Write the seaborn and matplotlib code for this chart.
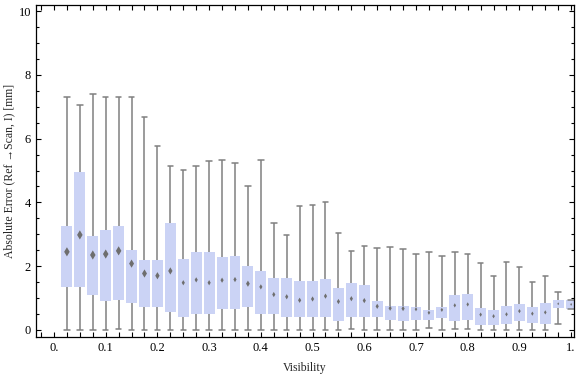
import matplotlib

matplotlib.use("Agg")
import matplotlib.pyplot as plt
import numpy as np
import pandas as pd
import seaborn as sns
from matplotlib.ticker import FixedLocator, MultipleLocator

# visibility bins (box positions)
visibility = [
    0.025, 0.05, 0.075, 0.1, 0.125, 0.15, 0.175, 0.2, 0.225, 0.25,
    0.275, 0.3, 0.325, 0.35, 0.375, 0.4, 0.425, 0.45, 0.475, 0.5,
    0.525, 0.55, 0.575, 0.6, 0.625, 0.65, 0.675, 0.7, 0.725, 0.75,
    0.775, 0.8, 0.825, 0.85, 0.875, 0.9, 0.925, 0.95, 0.975, 1.0,
]
err_min = [
    0, 0, 0, 0, 0.03, 0, 0, 0, 0, 0,
    0, 0, 0, 0, 0, 0, 0, 0, 0, 0,
    0, 0, 0.03, 0, 0, 0, 0, 0, 0.05, 0,
    0.02, 0.03, 0, 0, 0, 0, 0, 0, 0.18, 0.66,
]
err_q1 = [
    1.36, 1.36, 1.08, 0.92, 0.95, 0.86, 0.73, 0.73, 0.57, 0.42,
    0.51, 0.51, 0.67, 0.67, 0.73, 0.51, 0.51, 0.42, 0.39, 0.39,
    0.40, 0.29, 0.42, 0.39, 0.42, 0.32, 0.29, 0.31, 0.31, 0.37,
    0.29, 0.31, 0.16, 0.17, 0.18, 0.28, 0.23, 0.20, 0.70, 0.66,
]
err_mean = [
    2.45, 2.98, 2.35, 2.38, 2.48, 2.08, 1.77, 1.70, 1.85, 1.48,
    1.57, 1.48, 1.56, 1.58, 1.45, 1.35, 1.11, 1.04, 0.93, 0.97,
    1.06, 0.89, 0.98, 0.92, 0.74, 0.68, 0.67, 0.65, 0.54, 0.63,
    0.77, 0.80, 0.48, 0.43, 0.49, 0.59, 0.51, 0.55, 0.82, 0.80,
]
err_q3 = [
    3.26, 4.95, 2.95, 3.12, 3.26, 2.51, 2.19, 2.19, 3.35, 2.23,
    2.45, 2.45, 2.29, 2.32, 2.01, 1.85, 1.63, 1.63, 1.54, 1.54,
    1.60, 1.32, 1.47, 1.41, 0.91, 0.75, 0.75, 0.72, 0.61, 0.72,
    1.11, 1.12, 0.68, 0.62, 0.74, 0.80, 0.71, 0.85, 0.94, 0.94,
]
err_max = [
    7.29, 7.07, 7.39, 7.32, 7.32, 7.29, 6.67, 5.76, 5.13, 5.02,
    5.13, 5.30, 5.32, 5.22, 4.50, 5.32, 3.34, 2.97, 3.88, 3.91,
    4.00, 3.03, 2.47, 2.62, 2.56, 2.59, 2.53, 2.37, 2.44, 2.31,
    2.44, 2.37, 2.09, 1.70, 2.12, 1.96, 1.49, 1.70, 1.18, 0.94,
]
# height of the mean diamond (mm)
mean_ci = [
    0.28, 0.28, 0.28, 0.28, 0.28, 0.25, 0.25, 0.22, 0.22, 0.16,
    0.16, 0.16, 0.16, 0.16, 0.19, 0.16, 0.16, 0.16, 0.16, 0.16,
    0.16, 0.16, 0.16, 0.16, 0.16, 0.16, 0.16, 0.13, 0.13, 0.13,
    0.13, 0.13, 0.13, 0.13, 0.13, 0.13, 0.13, 0.13, 0.09, 0.09,
]
xtick_vals = [0, 0.1, 0.2, 0.3, 0.4, 0.5, 0.6, 0.7, 0.8, 0.9, 1.0]
xtick_labels = ["0.", "0.1", "0.2", "0.3", "0.4", "0.5", "0.6", "0.7", "0.8", "0.9", "1."]

BOX = "#cbd3f5"
LINE = "#808080"

sns.set_style("ticks")
plt.rcParams["font.family"] = ["Liberation Serif", "DejaVu Serif"]
plt.rcParams["xtick.direction"] = "in"
plt.rcParams["ytick.direction"] = "in"

# five-number summary per bin -> boxplot with whiskers at min/max
rows = []
for v, a, b, c, d, e in zip(visibility, err_min, err_q1, err_mean, err_q3, err_max):
    for val in (a, b, c, d, e):
        rows.append({"vis": v, "err": val})
df = pd.DataFrame(rows)

means = pd.DataFrame({"vis": visibility, "err": err_mean, "ci": np.array(mean_ci) ** 2})

fig = plt.figure(figsize=(5.76, 3.77), dpi=100)
ax = fig.add_axes([0.0625, 0.105, 0.934, 0.8825])

sns.boxplot(
    data=df, x="vis", y="err", native_scale=True, whis=(0, 100),
    width=0.85, color=BOX, saturation=1, fill=True, ax=ax,
    boxprops=dict(linewidth=0, facecolor=BOX, edgecolor=BOX),
    whiskerprops=dict(color=LINE, linewidth=1.1),
    capprops=dict(color=LINE, linewidth=1.1),
    medianprops=dict(linewidth=0),
    showfliers=False,
)
sns.scatterplot(
    data=means, x="vis", y="err", size="ci", sizes=(0, 22),
    size_norm=(0, max(means["ci"])), marker="d", color="#6e6e6e",
    linewidth=0, legend=False, ax=ax, zorder=5,
)

ax.set_xlim(-0.0348, 1.0055)
ax.set_ylim(-0.235, 10.2)
ax.xaxis.set_major_locator(FixedLocator(xtick_vals))
ax.set_xticklabels(xtick_labels)
ax.xaxis.set_minor_locator(MultipleLocator(0.025))
ax.yaxis.set_major_locator(MultipleLocator(2))
ax.yaxis.set_minor_locator(MultipleLocator(0.5))
ax.tick_params(which="both", top=True, right=True, direction="in", colors="black", labelsize=9)
ax.tick_params(axis="x", which="both", length=3.5, width=0.8)
ax.tick_params(axis="y", which="major", length=3.5, width=0.8)
ax.tick_params(axis="y", which="minor", length=2, width=0.8)
for s in ax.spines.values():
    s.set_visible(True)
    s.set_linewidth(0.9)
    s.set_color("black")

ax.set_xlabel("Visibility", fontsize=8.5)
ax.set_ylabel("Absolute Error (Ref \u2192Scan, I) [mm]", fontsize=8.5,
              family=["Liberation Serif", "DejaVu Serif"])
ax.yaxis.set_label_coords(-0.038, 0.5)
ax.xaxis.set_label_coords(0.5, -0.075)

plt.savefig("out.png", dpi=100)
